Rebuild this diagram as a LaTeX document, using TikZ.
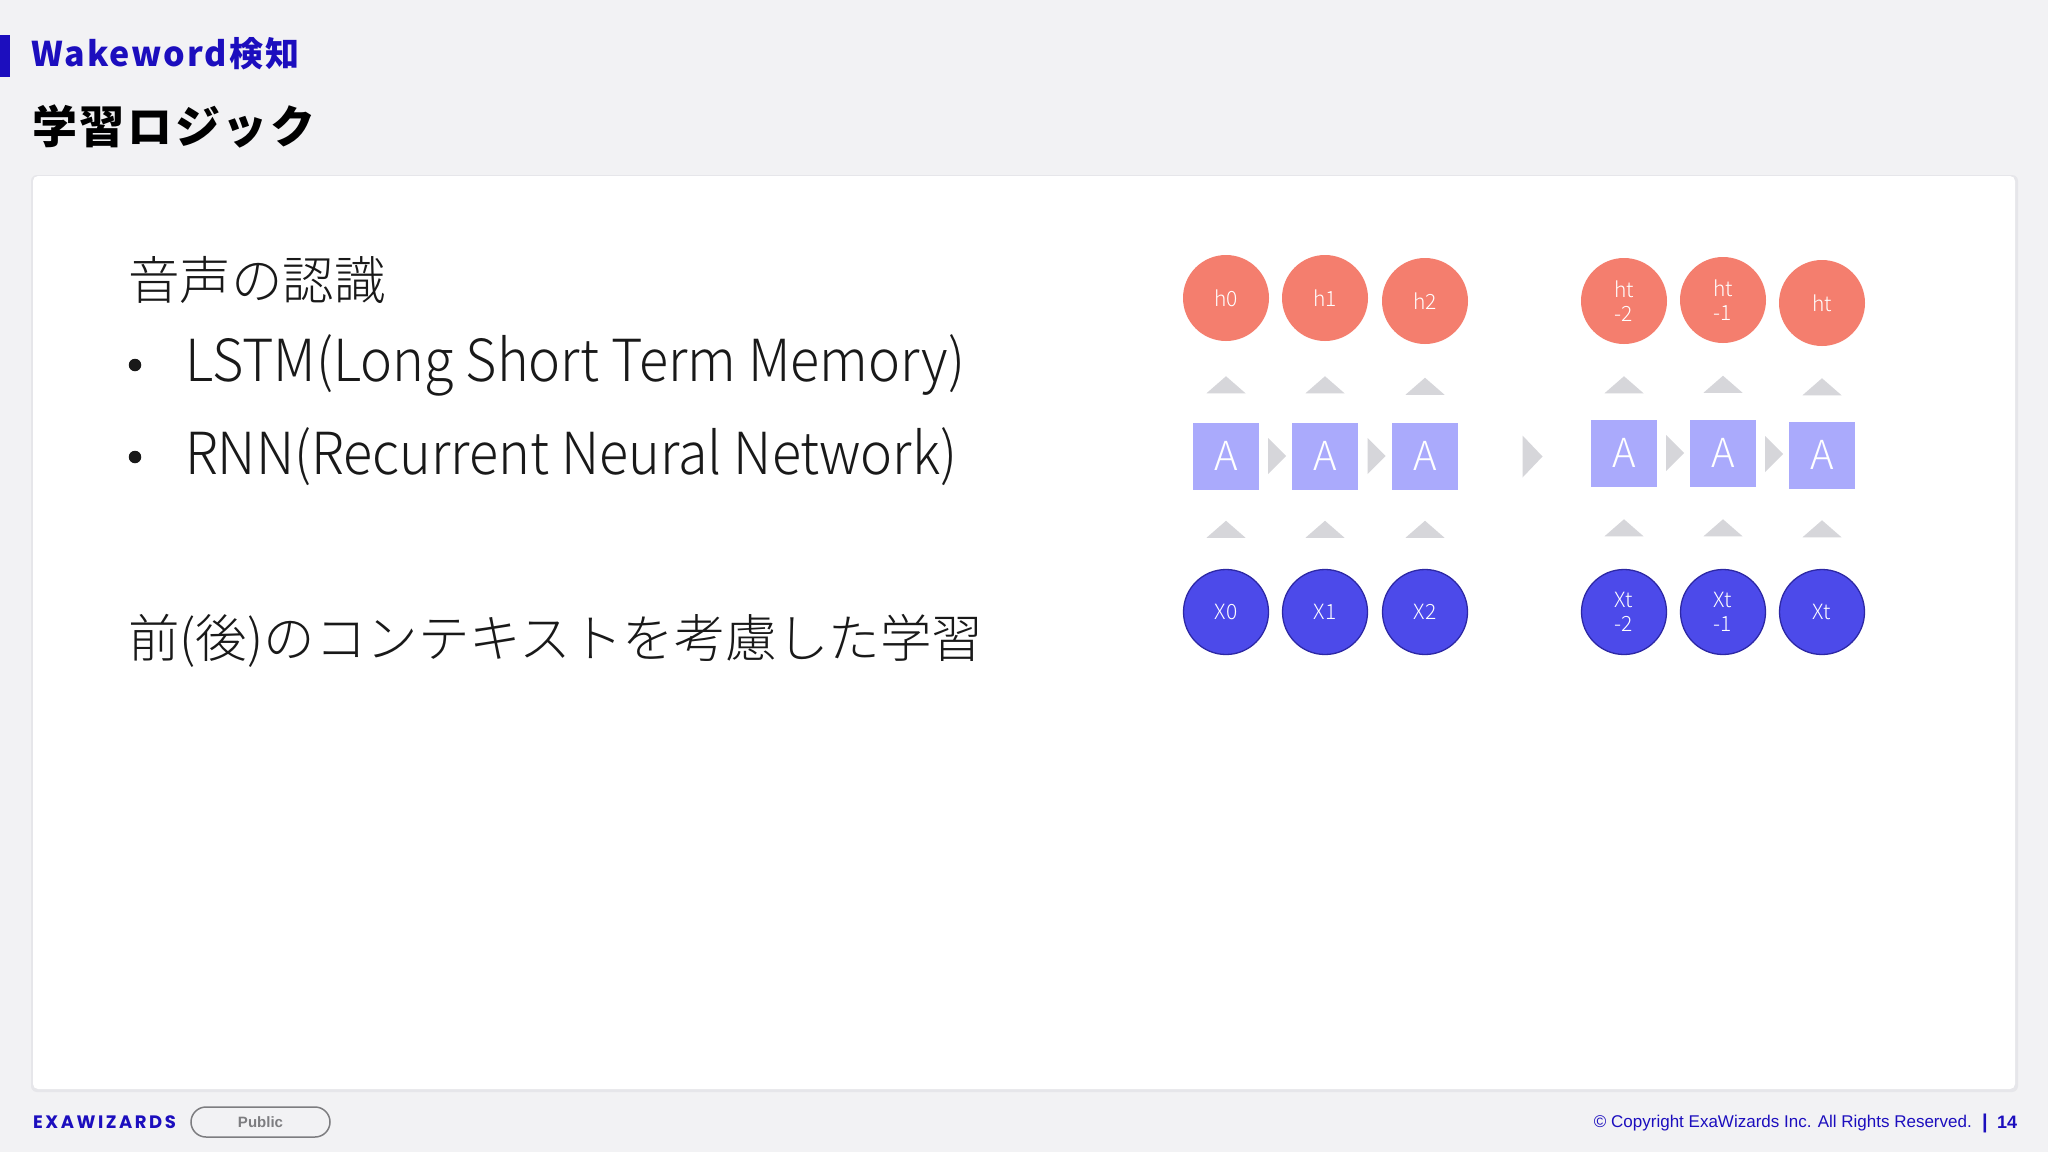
\documentclass[tikz,border=0pt]{standalone}
\usepackage{fontspec}
\setmainfont{Noto Sans CJK JP}
\newfontfamily\jp{Noto Sans CJK JP Light}
\newfontfamily\jplat[FakeStretch=0.93]{Noto Sans CJK JP Light}
\newfontfamily\jptitle[LetterSpace=6]{Noto Sans CJK JP}
\newfontfamily\lbl{Noto Sans CJK JP Light}
\newfontfamily\logo[LetterSpace=14]{Poppins}
\newfontfamily\arial{Liberation Sans}
\usetikzlibrary{calc}
\definecolor{bgc}{RGB}{242,242,244}
\definecolor{shadowc}{RGB}{230,230,234}
\definecolor{titleblue}{RGB}{28,14,190}
\definecolor{txt}{RGB}{25,25,25}
\definecolor{hcol}{RGB}{244,126,110}
\definecolor{xcol}{RGB}{76,74,234}
\definecolor{xbord}{RGB}{45,40,165}
\definecolor{acol}{RGB}{170,170,252}
\definecolor{tcol}{RGB}{214,214,218}
\definecolor{pillc}{RGB}{125,125,128}
\tikzset{
  hc/.style={circle,fill=hcol,minimum size=86pt,inner sep=0pt,text=white,align=center,font=\lbl\fontsize{21}{24}\selectfont},
  xc/.style={circle,fill=xcol,draw=xbord,line width=1.3pt,minimum size=85pt,inner sep=0pt,text=white,align=center,font=\lbl\fontsize{21}{24}\selectfont},
  abox/.style={rectangle,fill=acol,minimum width=66pt,minimum height=67pt,inner sep=0pt,text=white,font=\lbl\fontsize{40}{40}\selectfont},
  tri/.style={fill=tcol},
  maintext/.style={anchor=west,inner sep=0pt,text=txt,font=\jp\fontsize{51.5}{51.5}\selectfont},
  bullettext/.style={anchor=west,inner sep=0pt,text=txt,font=\jplat\fontsize{58}{58}\selectfont},
  bulletdot/.style={circle,fill=txt,minimum size=12.5pt,inner sep=0pt}
}
\begin{document}
\begin{tikzpicture}[x=1pt,y=-1pt]
\useasboundingbox (0,0) rectangle (2048,1152);
\fill[bgc] (0,0) rectangle (2048,1152);
% card
\fill[shadowc,rounded corners=6pt] (31,175) rectangle (2018,1092);
\fill[white,rounded corners=5pt] (33,176) rectangle (2015,1089);
% header
\fill[titleblue] (0,35) rectangle (10,77);
\node[anchor=base west,inner sep=0pt,text=titleblue,font=\jptitle\bfseries\fontsize{34}{34}\selectfont] (sec) at (31,66) {Wakeword検知};
\node[anchor=west,inner sep=0pt,text=black,font=\jptitle\bfseries\fontsize{45}{45}\selectfont] (ttl) at (32,126) {学習ロジック};
% left text
\node[maintext] (t1) at (128,280) {音声の認識};
\node[bulletdot] (b1) at (135,365) {};
\node[bullettext] (l1) at (185,365) {LSTM(Long Short Term Memory)};
\node[bulletdot] (b2) at (135,457) {};
\node[bullettext] (l2) at (185,457) {RNN(Recurrent Neural Network)};
\node[maintext] (t2) at (128,641) {前(後)のコンテキストを考慮した学習};
% diagram nodes
\node[hc] (h0) at (1226,298) {h0};
\node[hc] (h1) at (1325,298) {h1};
\node[hc] (h2) at (1425,301) {h2};
\node[hc] (h3) at (1624,301) {ht\\-2};
\node[hc] (h4) at (1723,300) {ht\\-1};
\node[hc] (h5) at (1822,303) {ht};
\node[abox] (a0) at (1226,456) {A};
\node[abox] (a1) at (1325,456) {A};
\node[abox] (a2) at (1425,456) {A};
\node[abox] (a3) at (1624,453) {A};
\node[abox] (a4) at (1723,453) {A};
\node[abox] (a5) at (1822,455) {A};
\node[xc] (x0) at (1226,612) {X0};
\node[xc] (x1) at (1325,612) {X1};
\node[xc] (x2) at (1425,612) {X2};
\node[xc] (x3) at (1624,612) {Xt\\-2};
\node[xc] (x4) at (1723,612) {Xt\\-1};
\node[xc] (x5) at (1822,612) {Xt};
% up triangles
\foreach \i in {0,...,5}{
  \coordinate (mu\i) at ($(h\i.south)!0.5!(a\i.north)+(0,3)$);
  \fill[tri,shift={(mu\i)}] (0,-8.5) -- (19.5,8.5) -- (-19.5,8.5) -- cycle;
  \coordinate (md\i) at ($(a\i.south)!0.5!(x\i.north)$);
  \fill[tri,shift={(md\i)}] (0,-8.5) -- (19.5,8.5) -- (-19.5,8.5) -- cycle;
}
% right triangles
\foreach \i/\j in {0/1,1/2,3/4,4/5}{
  \coordinate (mr\i) at ($(a\i.east)!0.5!(a\j.west)+(1.5,0)$);
  \fill[tri,shift={(mr\i)}] (-9,-18) -- (9,0) -- (-9,18) -- cycle;
}
\coordinate (mid) at ($(a2.east)!0.5!(a3.west)+(8,2)$);
\fill[tri,shift={(mid)}] (-10,-21) -- (10,0) -- (-10,21) -- cycle;
% footer
\node[anchor=west,inner sep=0pt,text=titleblue,font=\logo\bfseries\fontsize{18}{18}\selectfont] (logo) at (33,1122) {EXAWIZARDS};
\node[draw=pillc,line width=1.5pt,rounded corners=15pt,minimum width=139pt,minimum height=30pt,inner sep=0pt,text=pillc,font=\arial\bfseries\fontsize{15}{15}\selectfont] (pub) at (260.5,1122) {Public};
\node[anchor=east,inner sep=0pt,text=titleblue,font=\arial\fontsize{17}{17}\selectfont] (copy) at (1972,1123) {© Copyright ExaWizards Inc. All Rights Reserved.};
\node[anchor=center,inner sep=0pt,text=titleblue,font=\arial\bfseries\fontsize{20}{20}\selectfont] (bar) at (1985,1123) {|};
\node[anchor=west,inner sep=0pt,text=titleblue,font=\arial\bfseries\fontsize{18}{18}\selectfont] (pg) at (1997,1122) {14};
\end{tikzpicture}
\end{document}
